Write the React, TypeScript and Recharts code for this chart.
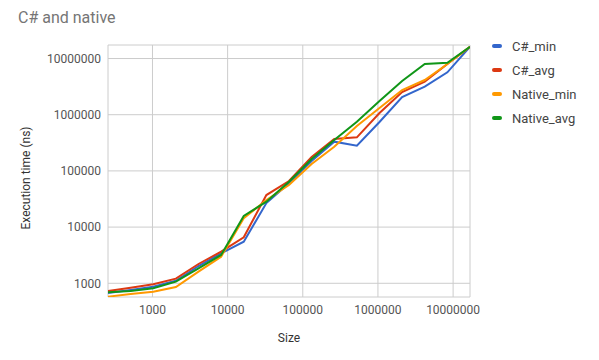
import { CartesianGrid, Line, LineChart, XAxis, YAxis } from "recharts";

// Input sizes 2^8 .. 2^24
const sizes = [
  256, 512, 1024, 2048, 4096, 8192, 16384, 32768, 65536, 131072, 262144, 524288,
  1048576, 2097152, 4194304, 8388608, 16777216,
];

// execution time in ns
const csMin = [
  672, 760, 870, 1110, 2030, 3420, 5500, 26800, 60100, 150000, 331000, 281000,
  741000, 2065000, 3150000, 5680000, 16200000,
];
const csAvg = [
  729, 835, 960, 1208, 2205, 3650, 6590, 37200, 66100, 176700, 370000, 396000,
  1072000, 2535000, 3865000, 7980000, 16200000,
];
const nativeMin = [
  578, 645, 709, 860, 1608, 2975, 14350, 30300, 56100, 132700, 269700, 630000,
  1316000, 2752000, 4142000, 7980000, 16200000,
];
const nativeAvg = [
  692, 729, 815, 1068, 1849, 3190, 15770, 28300, 64250, 162900, 354600, 750800,
  1753000, 3980000, 7980000, 8415000, 16200000,
];

const xTicks = [1000, 10000, 100000, 1000000, 10000000];
const yTicks = [1000, 10000, 100000, 1000000, 10000000];

const SERIES = [
  { key: "C#_min", color: "#3366CC" },
  { key: "C#_avg", color: "#DC3912" },
  { key: "Native_min", color: "#FF9900" },
  { key: "Native_avg", color: "#109618" },
];

const FONT = "Roboto, 'Noto Sans', sans-serif";

const data = sizes.map((size, i) => ({
  size,
  "C#_min": csMin[i],
  "C#_avg": csAvg[i],
  Native_min: nativeMin[i],
  Native_avg: nativeAvg[i],
}));

// legend sits outside the recharts layout so it doesn't eat into the plot
function LegendBox() {
  return (
    <div
      style={{
        position: "absolute",
        left: 492,
        top: 34,
        fontFamily: FONT,
        fontSize: 13,
        color: "#444",
      }}
    >
      {SERIES.map((s) => (
        <div key={s.key} style={{ display: "flex", alignItems: "center", height: 24 }}>
          <span
            style={{
              display: "inline-block",
              width: 10,
              height: 4,
              borderRadius: 2,
              background: s.color,
              marginRight: 10,
            }}
          />
          {s.key}
        </div>
      ))}
    </div>
  );
}

export default function App() {
  return (
    <div style={{ position: "absolute", left: 0, top: 0, width: 599, height: 360, background: "#fff" }}>
      <div
        style={{
          position: "absolute",
          left: 18,
          top: 8,
          fontFamily: FONT,
          fontSize: 16,
          color: "#757575",
        }}
      >
        C# and native
      </div>
      <LineChart
        width={599}
        height={360}
        data={data}
        margin={{ top: 45, right: 129, left: 0, bottom: 30 }}
        style={{ fontFamily: FONT }}
      >
        <CartesianGrid stroke="#cccccc" />
        <XAxis
          dataKey="size"
          type="number"
          scale="log"
          domain={[256, 16777216]}
          allowDataOverflow
          ticks={xTicks}
          tick={{ fontSize: 12, fill: "#555" }}
          tickLine={false}
          axisLine={false}
          height={33}
          label={{ value: "Size", position: "insideBottom", offset: -12, fontSize: 12, fill: "#333" }}
        />
        <YAxis
          type="number"
          scale="log"
          domain={[570, 17400000]}
          allowDataOverflow
          ticks={yTicks}
          tick={{ fontSize: 12, fill: "#555" }}
          tickLine={false}
          tickSize={5}
          axisLine={false}
          width={108}
          label={({ viewBox }: any) => (
            <text
              x={viewBox.x + 26}
              y={178}
              transform={`rotate(-90, ${viewBox.x + 26}, 178)`}
              textAnchor="middle"
              dominantBaseline="central"
              fontSize={12}
              fill="#333"
              fontFamily={FONT}
            >
              Execution time (ns)
            </text>
          )}
        />
        {SERIES.map((s) => (
          <Line
            key={s.key}
            dataKey={s.key}
            stroke={s.color}
            strokeWidth={2}
            dot={false}
            type="linear"
            isAnimationActive={false}
          />
        ))}
      </LineChart>
      <LegendBox />
    </div>
  );
}
